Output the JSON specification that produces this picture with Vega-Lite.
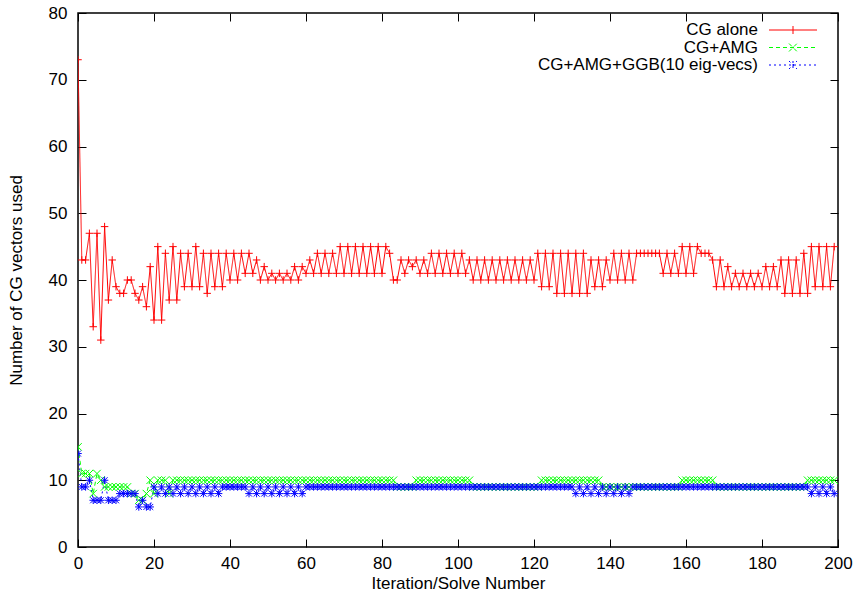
{
  "$schema": "https://vega.github.io/schema/vega-lite/v6.json",
  "width": 760,
  "height": 534,
  "autosize": {"type": "none"},
  "padding": {"left": 78, "top": 13, "right": 20, "bottom": 55},
  "background": "#ffffff",
  "config": {
    "view": {"stroke": "#000000", "strokeWidth": 1.5},
    "font": "Liberation Sans",
    "axis": {
      "domain": false,
      "grid": false,
      "tickColor": "#000000",
      "tickSize": -8,
      "tickWidth": 1,
      "labelFont": "Liberation Sans",
      "labelFontSize": 17,
      "labelColor": "#000000",
      "titleFont": "Liberation Sans",
      "titleFontSize": 17,
      "titleFontWeight": "normal",
      "titleColor": "#000000",
      "labelFlush": false,
      "labelOverlap": false
    },
    "legend": {
      "title": null,
      "orient": "none",
      "legendX": 706.5,
      "legendY": 8.5,
      "padding": 0,
      "symbolSize": 100,
      "symbolStrokeWidth": 1,
      "symbolFillColor": "transparent",
      "labelFont": "Liberation Sans",
      "labelFontSize": 17,
      "labelColor": "#000000",
      "labelAlign": "right",
      "labelOffset": -43.5,
      "labelLimit": 400,
      "rowPadding": -0.5
    }
  },
  "data": {
    "values": [
      {"x":0,"CG alone":73,"CG+AMG":15,"CG+AMG+GGB(10 eig-vecs)":14},
      {"x":1,"CG alone":43,"CG+AMG":11,"CG+AMG+GGB(10 eig-vecs)":9},
      {"x":2,"CG alone":43,"CG+AMG":11,"CG+AMG+GGB(10 eig-vecs)":9},
      {"x":3,"CG alone":47,"CG+AMG":11,"CG+AMG+GGB(10 eig-vecs)":10},
      {"x":4,"CG alone":33,"CG+AMG":8,"CG+AMG+GGB(10 eig-vecs)":7},
      {"x":5,"CG alone":47,"CG+AMG":11,"CG+AMG+GGB(10 eig-vecs)":7},
      {"x":6,"CG alone":31,"CG+AMG":10,"CG+AMG+GGB(10 eig-vecs)":7},
      {"x":7,"CG alone":48,"CG+AMG":9,"CG+AMG+GGB(10 eig-vecs)":10},
      {"x":8,"CG alone":37,"CG+AMG":9,"CG+AMG+GGB(10 eig-vecs)":7},
      {"x":9,"CG alone":43,"CG+AMG":9,"CG+AMG+GGB(10 eig-vecs)":7},
      {"x":10,"CG alone":39,"CG+AMG":9,"CG+AMG+GGB(10 eig-vecs)":7},
      {"x":11,"CG alone":38,"CG+AMG":9,"CG+AMG+GGB(10 eig-vecs)":8},
      {"x":12,"CG alone":38,"CG+AMG":9,"CG+AMG+GGB(10 eig-vecs)":8},
      {"x":13,"CG alone":40,"CG+AMG":9,"CG+AMG+GGB(10 eig-vecs)":8},
      {"x":14,"CG alone":40,"CG+AMG":8,"CG+AMG+GGB(10 eig-vecs)":8},
      {"x":15,"CG alone":38,"CG+AMG":8,"CG+AMG+GGB(10 eig-vecs)":8},
      {"x":16,"CG alone":37,"CG+AMG":7,"CG+AMG+GGB(10 eig-vecs)":6},
      {"x":17,"CG alone":39,"CG+AMG":7,"CG+AMG+GGB(10 eig-vecs)":7},
      {"x":18,"CG alone":36,"CG+AMG":8,"CG+AMG+GGB(10 eig-vecs)":6},
      {"x":19,"CG alone":42,"CG+AMG":10,"CG+AMG+GGB(10 eig-vecs)":6},
      {"x":20,"CG alone":34,"CG+AMG":8,"CG+AMG+GGB(10 eig-vecs)":9},
      {"x":21,"CG alone":45,"CG+AMG":10,"CG+AMG+GGB(10 eig-vecs)":8},
      {"x":22,"CG alone":34,"CG+AMG":10,"CG+AMG+GGB(10 eig-vecs)":9},
      {"x":23,"CG alone":44,"CG+AMG":10,"CG+AMG+GGB(10 eig-vecs)":8},
      {"x":24,"CG alone":37,"CG+AMG":8,"CG+AMG+GGB(10 eig-vecs)":9},
      {"x":25,"CG alone":45,"CG+AMG":10,"CG+AMG+GGB(10 eig-vecs)":8},
      {"x":26,"CG alone":37,"CG+AMG":10,"CG+AMG+GGB(10 eig-vecs)":9},
      {"x":27,"CG alone":44,"CG+AMG":10,"CG+AMG+GGB(10 eig-vecs)":8},
      {"x":28,"CG alone":39,"CG+AMG":10,"CG+AMG+GGB(10 eig-vecs)":9},
      {"x":29,"CG alone":44,"CG+AMG":10,"CG+AMG+GGB(10 eig-vecs)":8},
      {"x":30,"CG alone":39,"CG+AMG":10,"CG+AMG+GGB(10 eig-vecs)":9},
      {"x":31,"CG alone":45,"CG+AMG":10,"CG+AMG+GGB(10 eig-vecs)":8},
      {"x":32,"CG alone":39,"CG+AMG":10,"CG+AMG+GGB(10 eig-vecs)":9},
      {"x":33,"CG alone":44,"CG+AMG":10,"CG+AMG+GGB(10 eig-vecs)":8},
      {"x":34,"CG alone":38,"CG+AMG":10,"CG+AMG+GGB(10 eig-vecs)":9},
      {"x":35,"CG alone":44,"CG+AMG":10,"CG+AMG+GGB(10 eig-vecs)":8},
      {"x":36,"CG alone":39,"CG+AMG":10,"CG+AMG+GGB(10 eig-vecs)":9},
      {"x":37,"CG alone":44,"CG+AMG":10,"CG+AMG+GGB(10 eig-vecs)":8},
      {"x":38,"CG alone":39,"CG+AMG":10,"CG+AMG+GGB(10 eig-vecs)":9},
      {"x":39,"CG alone":44,"CG+AMG":10,"CG+AMG+GGB(10 eig-vecs)":9},
      {"x":40,"CG alone":40,"CG+AMG":10,"CG+AMG+GGB(10 eig-vecs)":9},
      {"x":41,"CG alone":44,"CG+AMG":10,"CG+AMG+GGB(10 eig-vecs)":9},
      {"x":42,"CG alone":40,"CG+AMG":10,"CG+AMG+GGB(10 eig-vecs)":9},
      {"x":43,"CG alone":44,"CG+AMG":10,"CG+AMG+GGB(10 eig-vecs)":9},
      {"x":44,"CG alone":41,"CG+AMG":10,"CG+AMG+GGB(10 eig-vecs)":9},
      {"x":45,"CG alone":44,"CG+AMG":10,"CG+AMG+GGB(10 eig-vecs)":8},
      {"x":46,"CG alone":41,"CG+AMG":10,"CG+AMG+GGB(10 eig-vecs)":9},
      {"x":47,"CG alone":43,"CG+AMG":10,"CG+AMG+GGB(10 eig-vecs)":8},
      {"x":48,"CG alone":40,"CG+AMG":10,"CG+AMG+GGB(10 eig-vecs)":9},
      {"x":49,"CG alone":42,"CG+AMG":10,"CG+AMG+GGB(10 eig-vecs)":8},
      {"x":50,"CG alone":40,"CG+AMG":10,"CG+AMG+GGB(10 eig-vecs)":9},
      {"x":51,"CG alone":41,"CG+AMG":10,"CG+AMG+GGB(10 eig-vecs)":8},
      {"x":52,"CG alone":40,"CG+AMG":10,"CG+AMG+GGB(10 eig-vecs)":9},
      {"x":53,"CG alone":41,"CG+AMG":10,"CG+AMG+GGB(10 eig-vecs)":8},
      {"x":54,"CG alone":40,"CG+AMG":10,"CG+AMG+GGB(10 eig-vecs)":9},
      {"x":55,"CG alone":41,"CG+AMG":10,"CG+AMG+GGB(10 eig-vecs)":8},
      {"x":56,"CG alone":40,"CG+AMG":10,"CG+AMG+GGB(10 eig-vecs)":9},
      {"x":57,"CG alone":42,"CG+AMG":10,"CG+AMG+GGB(10 eig-vecs)":8},
      {"x":58,"CG alone":40,"CG+AMG":10,"CG+AMG+GGB(10 eig-vecs)":9},
      {"x":59,"CG alone":42,"CG+AMG":10,"CG+AMG+GGB(10 eig-vecs)":8},
      {"x":60,"CG alone":41,"CG+AMG":10,"CG+AMG+GGB(10 eig-vecs)":9},
      {"x":61,"CG alone":43,"CG+AMG":10,"CG+AMG+GGB(10 eig-vecs)":9},
      {"x":62,"CG alone":41,"CG+AMG":10,"CG+AMG+GGB(10 eig-vecs)":9},
      {"x":63,"CG alone":44,"CG+AMG":10,"CG+AMG+GGB(10 eig-vecs)":9},
      {"x":64,"CG alone":41,"CG+AMG":10,"CG+AMG+GGB(10 eig-vecs)":9},
      {"x":65,"CG alone":44,"CG+AMG":10,"CG+AMG+GGB(10 eig-vecs)":9},
      {"x":66,"CG alone":41,"CG+AMG":10,"CG+AMG+GGB(10 eig-vecs)":9},
      {"x":67,"CG alone":44,"CG+AMG":10,"CG+AMG+GGB(10 eig-vecs)":9},
      {"x":68,"CG alone":41,"CG+AMG":10,"CG+AMG+GGB(10 eig-vecs)":9},
      {"x":69,"CG alone":45,"CG+AMG":10,"CG+AMG+GGB(10 eig-vecs)":9},
      {"x":70,"CG alone":41,"CG+AMG":10,"CG+AMG+GGB(10 eig-vecs)":9},
      {"x":71,"CG alone":45,"CG+AMG":10,"CG+AMG+GGB(10 eig-vecs)":9},
      {"x":72,"CG alone":41,"CG+AMG":10,"CG+AMG+GGB(10 eig-vecs)":9},
      {"x":73,"CG alone":45,"CG+AMG":10,"CG+AMG+GGB(10 eig-vecs)":9},
      {"x":74,"CG alone":41,"CG+AMG":10,"CG+AMG+GGB(10 eig-vecs)":9},
      {"x":75,"CG alone":45,"CG+AMG":10,"CG+AMG+GGB(10 eig-vecs)":9},
      {"x":76,"CG alone":41,"CG+AMG":10,"CG+AMG+GGB(10 eig-vecs)":9},
      {"x":77,"CG alone":45,"CG+AMG":10,"CG+AMG+GGB(10 eig-vecs)":9},
      {"x":78,"CG alone":41,"CG+AMG":10,"CG+AMG+GGB(10 eig-vecs)":9},
      {"x":79,"CG alone":45,"CG+AMG":10,"CG+AMG+GGB(10 eig-vecs)":9},
      {"x":80,"CG alone":41,"CG+AMG":10,"CG+AMG+GGB(10 eig-vecs)":9},
      {"x":81,"CG alone":45,"CG+AMG":10,"CG+AMG+GGB(10 eig-vecs)":9},
      {"x":82,"CG alone":44,"CG+AMG":10,"CG+AMG+GGB(10 eig-vecs)":9},
      {"x":83,"CG alone":40,"CG+AMG":10,"CG+AMG+GGB(10 eig-vecs)":9},
      {"x":84,"CG alone":40,"CG+AMG":9,"CG+AMG+GGB(10 eig-vecs)":9},
      {"x":85,"CG alone":43,"CG+AMG":9,"CG+AMG+GGB(10 eig-vecs)":9},
      {"x":86,"CG alone":41,"CG+AMG":9,"CG+AMG+GGB(10 eig-vecs)":9},
      {"x":87,"CG alone":43,"CG+AMG":9,"CG+AMG+GGB(10 eig-vecs)":9},
      {"x":88,"CG alone":42,"CG+AMG":9,"CG+AMG+GGB(10 eig-vecs)":9},
      {"x":89,"CG alone":43,"CG+AMG":10,"CG+AMG+GGB(10 eig-vecs)":9},
      {"x":90,"CG alone":41,"CG+AMG":10,"CG+AMG+GGB(10 eig-vecs)":9},
      {"x":91,"CG alone":43,"CG+AMG":10,"CG+AMG+GGB(10 eig-vecs)":9},
      {"x":92,"CG alone":41,"CG+AMG":10,"CG+AMG+GGB(10 eig-vecs)":9},
      {"x":93,"CG alone":44,"CG+AMG":10,"CG+AMG+GGB(10 eig-vecs)":9},
      {"x":94,"CG alone":41,"CG+AMG":10,"CG+AMG+GGB(10 eig-vecs)":9},
      {"x":95,"CG alone":44,"CG+AMG":10,"CG+AMG+GGB(10 eig-vecs)":9},
      {"x":96,"CG alone":41,"CG+AMG":10,"CG+AMG+GGB(10 eig-vecs)":9},
      {"x":97,"CG alone":44,"CG+AMG":10,"CG+AMG+GGB(10 eig-vecs)":9},
      {"x":98,"CG alone":41,"CG+AMG":10,"CG+AMG+GGB(10 eig-vecs)":9},
      {"x":99,"CG alone":44,"CG+AMG":10,"CG+AMG+GGB(10 eig-vecs)":9},
      {"x":100,"CG alone":41,"CG+AMG":10,"CG+AMG+GGB(10 eig-vecs)":9},
      {"x":101,"CG alone":44,"CG+AMG":10,"CG+AMG+GGB(10 eig-vecs)":9},
      {"x":102,"CG alone":41,"CG+AMG":10,"CG+AMG+GGB(10 eig-vecs)":9},
      {"x":103,"CG alone":43,"CG+AMG":10,"CG+AMG+GGB(10 eig-vecs)":9},
      {"x":104,"CG alone":40,"CG+AMG":9,"CG+AMG+GGB(10 eig-vecs)":9},
      {"x":105,"CG alone":43,"CG+AMG":9,"CG+AMG+GGB(10 eig-vecs)":9},
      {"x":106,"CG alone":40,"CG+AMG":9,"CG+AMG+GGB(10 eig-vecs)":9},
      {"x":107,"CG alone":43,"CG+AMG":9,"CG+AMG+GGB(10 eig-vecs)":9},
      {"x":108,"CG alone":40,"CG+AMG":9,"CG+AMG+GGB(10 eig-vecs)":9},
      {"x":109,"CG alone":43,"CG+AMG":9,"CG+AMG+GGB(10 eig-vecs)":9},
      {"x":110,"CG alone":40,"CG+AMG":9,"CG+AMG+GGB(10 eig-vecs)":9},
      {"x":111,"CG alone":43,"CG+AMG":9,"CG+AMG+GGB(10 eig-vecs)":9},
      {"x":112,"CG alone":40,"CG+AMG":9,"CG+AMG+GGB(10 eig-vecs)":9},
      {"x":113,"CG alone":43,"CG+AMG":9,"CG+AMG+GGB(10 eig-vecs)":9},
      {"x":114,"CG alone":40,"CG+AMG":9,"CG+AMG+GGB(10 eig-vecs)":9},
      {"x":115,"CG alone":43,"CG+AMG":9,"CG+AMG+GGB(10 eig-vecs)":9},
      {"x":116,"CG alone":40,"CG+AMG":9,"CG+AMG+GGB(10 eig-vecs)":9},
      {"x":117,"CG alone":43,"CG+AMG":9,"CG+AMG+GGB(10 eig-vecs)":9},
      {"x":118,"CG alone":40,"CG+AMG":9,"CG+AMG+GGB(10 eig-vecs)":9},
      {"x":119,"CG alone":43,"CG+AMG":9,"CG+AMG+GGB(10 eig-vecs)":9},
      {"x":120,"CG alone":40,"CG+AMG":9,"CG+AMG+GGB(10 eig-vecs)":9},
      {"x":121,"CG alone":44,"CG+AMG":9,"CG+AMG+GGB(10 eig-vecs)":9},
      {"x":122,"CG alone":39,"CG+AMG":10,"CG+AMG+GGB(10 eig-vecs)":9},
      {"x":123,"CG alone":44,"CG+AMG":10,"CG+AMG+GGB(10 eig-vecs)":9},
      {"x":124,"CG alone":39,"CG+AMG":10,"CG+AMG+GGB(10 eig-vecs)":9},
      {"x":125,"CG alone":44,"CG+AMG":10,"CG+AMG+GGB(10 eig-vecs)":9},
      {"x":126,"CG alone":38,"CG+AMG":10,"CG+AMG+GGB(10 eig-vecs)":9},
      {"x":127,"CG alone":44,"CG+AMG":10,"CG+AMG+GGB(10 eig-vecs)":9},
      {"x":128,"CG alone":38,"CG+AMG":10,"CG+AMG+GGB(10 eig-vecs)":9},
      {"x":129,"CG alone":44,"CG+AMG":10,"CG+AMG+GGB(10 eig-vecs)":9},
      {"x":130,"CG alone":38,"CG+AMG":10,"CG+AMG+GGB(10 eig-vecs)":9},
      {"x":131,"CG alone":44,"CG+AMG":10,"CG+AMG+GGB(10 eig-vecs)":8},
      {"x":132,"CG alone":38,"CG+AMG":10,"CG+AMG+GGB(10 eig-vecs)":9},
      {"x":133,"CG alone":44,"CG+AMG":10,"CG+AMG+GGB(10 eig-vecs)":8},
      {"x":134,"CG alone":38,"CG+AMG":10,"CG+AMG+GGB(10 eig-vecs)":9},
      {"x":135,"CG alone":43,"CG+AMG":10,"CG+AMG+GGB(10 eig-vecs)":8},
      {"x":136,"CG alone":39,"CG+AMG":10,"CG+AMG+GGB(10 eig-vecs)":9},
      {"x":137,"CG alone":43,"CG+AMG":10,"CG+AMG+GGB(10 eig-vecs)":8},
      {"x":138,"CG alone":39,"CG+AMG":9,"CG+AMG+GGB(10 eig-vecs)":9},
      {"x":139,"CG alone":43,"CG+AMG":9,"CG+AMG+GGB(10 eig-vecs)":8},
      {"x":140,"CG alone":40,"CG+AMG":9,"CG+AMG+GGB(10 eig-vecs)":9},
      {"x":141,"CG alone":44,"CG+AMG":9,"CG+AMG+GGB(10 eig-vecs)":8},
      {"x":142,"CG alone":40,"CG+AMG":9,"CG+AMG+GGB(10 eig-vecs)":9},
      {"x":143,"CG alone":44,"CG+AMG":9,"CG+AMG+GGB(10 eig-vecs)":8},
      {"x":144,"CG alone":40,"CG+AMG":9,"CG+AMG+GGB(10 eig-vecs)":9},
      {"x":145,"CG alone":44,"CG+AMG":9,"CG+AMG+GGB(10 eig-vecs)":8},
      {"x":146,"CG alone":40,"CG+AMG":9,"CG+AMG+GGB(10 eig-vecs)":9},
      {"x":147,"CG alone":44,"CG+AMG":9,"CG+AMG+GGB(10 eig-vecs)":9},
      {"x":148,"CG alone":44,"CG+AMG":9,"CG+AMG+GGB(10 eig-vecs)":9},
      {"x":149,"CG alone":44,"CG+AMG":9,"CG+AMG+GGB(10 eig-vecs)":9},
      {"x":150,"CG alone":44,"CG+AMG":9,"CG+AMG+GGB(10 eig-vecs)":9},
      {"x":151,"CG alone":44,"CG+AMG":9,"CG+AMG+GGB(10 eig-vecs)":9},
      {"x":152,"CG alone":44,"CG+AMG":9,"CG+AMG+GGB(10 eig-vecs)":9},
      {"x":153,"CG alone":44,"CG+AMG":9,"CG+AMG+GGB(10 eig-vecs)":9},
      {"x":154,"CG alone":41,"CG+AMG":9,"CG+AMG+GGB(10 eig-vecs)":9},
      {"x":155,"CG alone":44,"CG+AMG":9,"CG+AMG+GGB(10 eig-vecs)":9},
      {"x":156,"CG alone":41,"CG+AMG":9,"CG+AMG+GGB(10 eig-vecs)":9},
      {"x":157,"CG alone":44,"CG+AMG":9,"CG+AMG+GGB(10 eig-vecs)":9},
      {"x":158,"CG alone":41,"CG+AMG":9,"CG+AMG+GGB(10 eig-vecs)":9},
      {"x":159,"CG alone":45,"CG+AMG":10,"CG+AMG+GGB(10 eig-vecs)":9},
      {"x":160,"CG alone":41,"CG+AMG":10,"CG+AMG+GGB(10 eig-vecs)":9},
      {"x":161,"CG alone":45,"CG+AMG":10,"CG+AMG+GGB(10 eig-vecs)":9},
      {"x":162,"CG alone":41,"CG+AMG":10,"CG+AMG+GGB(10 eig-vecs)":9},
      {"x":163,"CG alone":45,"CG+AMG":10,"CG+AMG+GGB(10 eig-vecs)":9},
      {"x":164,"CG alone":44,"CG+AMG":10,"CG+AMG+GGB(10 eig-vecs)":9},
      {"x":165,"CG alone":44,"CG+AMG":10,"CG+AMG+GGB(10 eig-vecs)":9},
      {"x":166,"CG alone":44,"CG+AMG":10,"CG+AMG+GGB(10 eig-vecs)":9},
      {"x":167,"CG alone":43,"CG+AMG":10,"CG+AMG+GGB(10 eig-vecs)":9},
      {"x":168,"CG alone":39,"CG+AMG":9,"CG+AMG+GGB(10 eig-vecs)":9},
      {"x":169,"CG alone":43,"CG+AMG":9,"CG+AMG+GGB(10 eig-vecs)":9},
      {"x":170,"CG alone":39,"CG+AMG":9,"CG+AMG+GGB(10 eig-vecs)":9},
      {"x":171,"CG alone":42,"CG+AMG":9,"CG+AMG+GGB(10 eig-vecs)":9},
      {"x":172,"CG alone":39,"CG+AMG":9,"CG+AMG+GGB(10 eig-vecs)":9},
      {"x":173,"CG alone":41,"CG+AMG":9,"CG+AMG+GGB(10 eig-vecs)":9},
      {"x":174,"CG alone":39,"CG+AMG":9,"CG+AMG+GGB(10 eig-vecs)":9},
      {"x":175,"CG alone":41,"CG+AMG":9,"CG+AMG+GGB(10 eig-vecs)":9},
      {"x":176,"CG alone":39,"CG+AMG":9,"CG+AMG+GGB(10 eig-vecs)":9},
      {"x":177,"CG alone":41,"CG+AMG":9,"CG+AMG+GGB(10 eig-vecs)":9},
      {"x":178,"CG alone":39,"CG+AMG":9,"CG+AMG+GGB(10 eig-vecs)":9},
      {"x":179,"CG alone":41,"CG+AMG":9,"CG+AMG+GGB(10 eig-vecs)":9},
      {"x":180,"CG alone":39,"CG+AMG":9,"CG+AMG+GGB(10 eig-vecs)":9},
      {"x":181,"CG alone":42,"CG+AMG":9,"CG+AMG+GGB(10 eig-vecs)":9},
      {"x":182,"CG alone":39,"CG+AMG":9,"CG+AMG+GGB(10 eig-vecs)":9},
      {"x":183,"CG alone":42,"CG+AMG":9,"CG+AMG+GGB(10 eig-vecs)":9},
      {"x":184,"CG alone":39,"CG+AMG":9,"CG+AMG+GGB(10 eig-vecs)":9},
      {"x":185,"CG alone":43,"CG+AMG":9,"CG+AMG+GGB(10 eig-vecs)":9},
      {"x":186,"CG alone":38,"CG+AMG":9,"CG+AMG+GGB(10 eig-vecs)":9},
      {"x":187,"CG alone":43,"CG+AMG":9,"CG+AMG+GGB(10 eig-vecs)":9},
      {"x":188,"CG alone":38,"CG+AMG":9,"CG+AMG+GGB(10 eig-vecs)":9},
      {"x":189,"CG alone":43,"CG+AMG":9,"CG+AMG+GGB(10 eig-vecs)":9},
      {"x":190,"CG alone":38,"CG+AMG":9,"CG+AMG+GGB(10 eig-vecs)":9},
      {"x":191,"CG alone":44,"CG+AMG":9,"CG+AMG+GGB(10 eig-vecs)":9},
      {"x":192,"CG alone":38,"CG+AMG":10,"CG+AMG+GGB(10 eig-vecs)":9},
      {"x":193,"CG alone":45,"CG+AMG":10,"CG+AMG+GGB(10 eig-vecs)":8},
      {"x":194,"CG alone":39,"CG+AMG":10,"CG+AMG+GGB(10 eig-vecs)":9},
      {"x":195,"CG alone":45,"CG+AMG":10,"CG+AMG+GGB(10 eig-vecs)":8},
      {"x":196,"CG alone":39,"CG+AMG":10,"CG+AMG+GGB(10 eig-vecs)":9},
      {"x":197,"CG alone":45,"CG+AMG":10,"CG+AMG+GGB(10 eig-vecs)":8},
      {"x":198,"CG alone":39,"CG+AMG":10,"CG+AMG+GGB(10 eig-vecs)":9},
      {"x":199,"CG alone":45,"CG+AMG":10,"CG+AMG+GGB(10 eig-vecs)":8}
    ]
  },
  "transform": [
    {"fold": ["CG alone", "CG+AMG", "CG+AMG+GGB(10 eig-vecs)"], "as": ["series", "value"]}
  ],
  "layer": [
    {
      "mark": {"type": "line", "strokeWidth": 1, "clip": true},
      "encoding": {
        "x": {
          "field": "x", "type": "quantitative",
          "scale": {"domain": [0, 200], "nice": false, "zero": false},
          "axis": {"orient": "bottom", "values": [0,20,40,60,80,100,120,140,160,180,200], "labelPadding": 16, "title": "Iteration/Solve Number", "titlePadding": 4}
        },
        "y": {
          "field": "value", "type": "quantitative",
          "scale": {"domain": [0, 80], "nice": false},
          "axis": {"orient": "left", "values": [0,10,20,30,40,50,60,70,80], "labelPadding": 19, "title": "Number of CG vectors used", "titlePadding": 23}
        },
        "color": {
          "field": "series", "type": "nominal",
          "scale": {"domain": ["CG alone", "CG+AMG", "CG+AMG+GGB(10 eig-vecs)"], "range": ["#ff0000", "#00ff00", "#0000ff"]},
          "legend": {
            "encode": {
              "symbols": {
                "update": {
                  "shape": {"signal": "datum.value === 'CG alone' ? 'M-4.8,0L4.8,0M0,-0.8L0,0.8' : datum.value === 'CG+AMG' ? 'M-4.8,0L4.8,0M-0.8,-0.8L0.8,0.8M-0.8,0.8L0.8,-0.8' : 'M-4.8,0L4.8,0M0,-0.8L0,0.8M-0.8,-0.8L0.8,0.8M-0.8,0.8L0.8,-0.8'"},
                  "stroke": {"signal": "datum.value === 'CG alone' ? '#ff0000' : datum.value === 'CG+AMG' ? '#00ff00' : '#0000ff'"},
                  "fill": {"value": "transparent"},
                  "strokeDash": {"signal": "datum.value === 'CG alone' ? [1,0] : datum.value === 'CG+AMG' ? [4,3] : [2,3]"},
                  "opacity": {"value": 1}
                }
              }
            }
          }
        },
        "strokeDash": {
          "field": "series", "type": "nominal",
          "scale": {"domain": ["CG alone", "CG+AMG", "CG+AMG+GGB(10 eig-vecs)"], "range": [[1, 0], [4, 3], [2, 3]]},
          "legend": null
        }
      }
    },
    {
      "transform": [{"filter": {"field": "series", "equal": "CG alone"}}],
      "mark": {"type": "point", "shape": "M-1,0L1,0M0,-1L0,1", "filled": false, "size": 56, "strokeWidth": 1, "opacity": 1, "stroke": "#ff0000", "clip": true},
      "encoding": {
        "x": {"field": "x", "type": "quantitative", "scale": {"domain": [0, 200], "nice": false, "zero": false}, "axis": null},
        "y": {"field": "value", "type": "quantitative", "scale": {"domain": [0, 80], "nice": false}, "axis": null}
      }
    },
    {
      "transform": [{"filter": {"field": "series", "equal": "CG+AMG"}}],
      "mark": {"type": "point", "shape": "M-1,-1L1,1M-1,1L1,-1", "filled": false, "size": 56, "strokeWidth": 1, "opacity": 1, "stroke": "#00ff00", "clip": true},
      "encoding": {
        "x": {"field": "x", "type": "quantitative", "scale": {"domain": [0, 200], "nice": false, "zero": false}, "axis": null},
        "y": {"field": "value", "type": "quantitative", "scale": {"domain": [0, 80], "nice": false}, "axis": null}
      }
    },
    {
      "transform": [{"filter": {"field": "series", "equal": "CG+AMG+GGB(10 eig-vecs)"}}],
      "mark": {"type": "point", "shape": "M-1,0L1,0M0,-1L0,1M-0.8,-0.8L0.8,0.8M-0.8,0.8L0.8,-0.8", "filled": false, "size": 56, "strokeWidth": 1, "opacity": 1, "stroke": "#0000ff", "clip": true},
      "encoding": {
        "x": {
          "field": "x", "type": "quantitative",
          "scale": {"domain": [0, 200], "nice": false, "zero": false},
          "axis": {"orient": "top", "values": [0,20,40,60,80,100,120,140,160,180,200], "labels": false, "title": null}
        },
        "y": {
          "field": "value", "type": "quantitative",
          "scale": {"domain": [0, 80], "nice": false},
          "axis": {"orient": "right", "values": [0,10,20,30,40,50,60,70,80], "labels": false, "title": null}
        }
      }
    }
  ],
  "resolve": {"axis": {"x": "independent", "y": "independent"}}
}
